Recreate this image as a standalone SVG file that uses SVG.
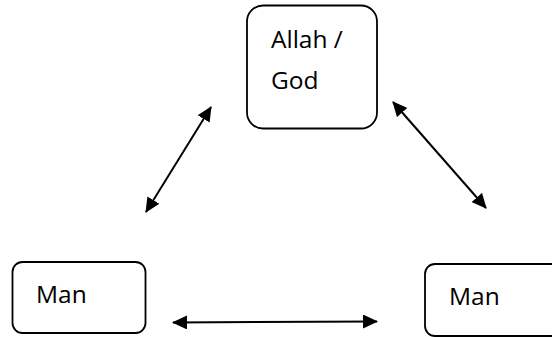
<svg xmlns="http://www.w3.org/2000/svg" width="552" height="337" viewBox="0 0 552 337">
<style>
.box{fill:#fff;stroke:#000;stroke-width:1.8}
.t{font-family:"Open Sans","DejaVu Sans",sans-serif;font-size:24.5px;fill:#000}
.c{stroke:#000;stroke-width:2;fill:none;marker-start:url(#ah);marker-end:url(#ah)}
</style>
<defs>
<marker id="ah" viewBox="0 0 15 14" refX="14" refY="7" markerWidth="7.5" markerHeight="7" orient="auto-start-reverse" markerUnits="strokeWidth">
<path d="M0,0 L15,7 L0,14 z" fill="#000"/>
</marker>
</defs>
<rect width="552" height="337" fill="#fff"/>
<g id="god">
<rect class="box" x="247" y="5.5" width="130" height="123" rx="16"/>
<text class="t" x="271" y="48">Allah /</text>
<text class="t" x="271" y="89">God</text>
</g>
<g id="man-left">
<rect class="box" x="12.5" y="262" width="133" height="71" rx="10"/>
<text class="t" x="36" y="303">Man</text>
</g>
<g id="man-right">
<rect class="box" x="425" y="264" width="140" height="72" rx="10"/>
<text class="t" x="449" y="305">Man</text>
</g>
<g id="connectors">
<line class="c" x1="146" y1="212" x2="211" y2="107"/>
<line class="c" x1="393" y1="102" x2="486" y2="208"/>
<line class="c" x1="173" y1="322.5" x2="377" y2="321.5"/>
</g>
</svg>
